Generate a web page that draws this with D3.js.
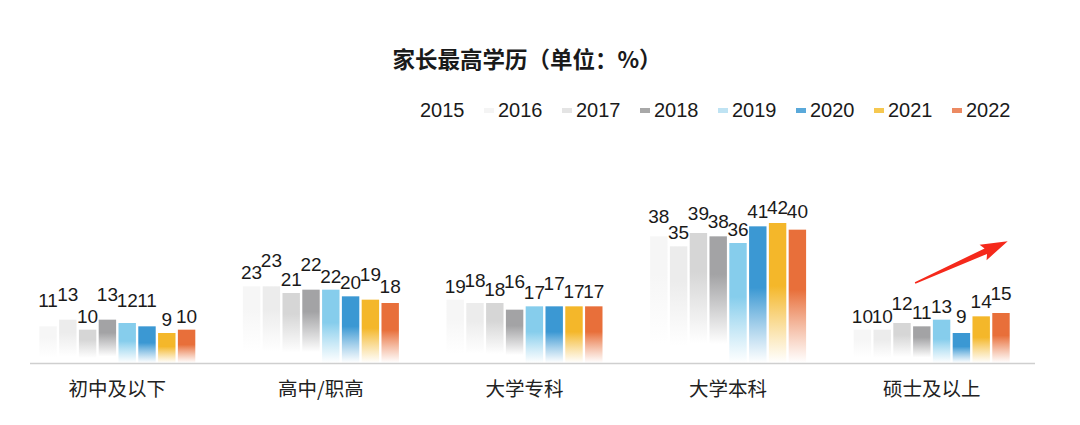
<!DOCTYPE html>
<html>
<head>
<meta charset="utf-8">
<script src="https://cdn.jsdelivr.net/npm/d3@7"></script>
<style>
  body { margin: 0; background: #fff; }
  svg { display: block; }
  .num { font-family: "Liberation Sans Narrow", "Liberation Sans", Arial, sans-serif; font-size: 19px; fill: #1a1a1a; }
  .leg { font-family: "Liberation Sans", Arial, sans-serif; font-size: 20px; fill: #1a1a1a; }
  .cat { font-family: "Noto Sans CJK SC", sans-serif; font-size: 19.5px; fill: #222; }
  .title { font-family: "Noto Sans CJK SC", sans-serif; font-size: 22.5px; font-weight: bold; fill: #1a1a1a; }
</style>
</head>
<body>
<svg id="chart" width="1080" height="425"></svg>
<script>
var categories = ['初中及以下', '高中/职高', '大学专科', '大学本科', '硕士及以上']
var years = ['2015', '2016', '2017', '2018', '2019', '2020', '2021', '2022']
var values = [
	[11, 13, 10, 13, 12, 11, 9, 10],
	[23, 23, 21, 22, 22, 20, 19, 18],
	[19, 18, 18, 16, 17, 17, 17, 17],
	[38, 35, 39, 38, 36, 41, 42, 40],
	[10, 10, 12, 11, 13, 9, 14, 15]
]
// how far each value label was nudged up in the original (0 = sits on the bar)
var labelLift = [
	[2, 2, 0, 2, 1.5, 2, 0, 0],
	[0, 2, 0, 2, 0, 0, 2, 0.5],
	[0, 1.5, 0, 2.5, 0, 1.5, 0.3, 0.2],
	[1, 0, 1, 0.3, 0, 0.3, 0.3, 0.7],
	[0, 0, 1, 0, 0, 0.5, 0.3, 1]
]
var colors = ['#f6f6f6', '#ececec', '#d6d6d6', '#a3a3a5', '#86cdec', '#3b98d3', '#f4b72a', '#e86f3a']
var swatchColors = ['#ffffff', '#f4f4f4', '#e4e4e4', '#a8a8a8', '#bfe3f3', '#5aa9da', '#f6c850', '#ec8a62']
var grayYears = 4

var svg = d3.select('#chart')

var x = d3.scaleBand().domain(categories).range([15.5, 1033.5])
var xi = d3.scaleBand().domain(years).range([23.8, 179.8]).paddingInner(0.12)
var y = d3.scaleLinear().domain([0, 42]).range([363, 223])

// gradients, solid on top and fading to white at the base
var defs = svg.append('defs')
for (var i = 0; i < years.length; i++) {
	var g = defs.append('linearGradient').attr('id', 'g' + i)
		.attr('x1', 0).attr('y1', 0).attr('x2', 0).attr('y2', 1)
	var gray = i < grayYears
	g.append('stop').attr('offset', 0).attr('stop-color', colors[i])
	g.append('stop').attr('offset', gray ? 0.3 : 0.45).attr('stop-color', colors[i])
	g.append('stop').attr('offset', gray ? 0.85 : 1).attr('stop-color', '#fff').attr('stop-opacity', gray ? 1 : 0.85)
	if (gray) g.append('stop').attr('offset', 1).attr('stop-color', '#fff')
}

svg.append('text').attr('class', 'title').attr('x', 527).attr('y', 68)
	.attr('text-anchor', 'middle').text('家长最高学历（单位：%）')

// legend
var legend = svg.append('g').attr('transform', 'translate(420,117)')
var items = legend.selectAll('g').data(years).enter().append('g')
	.attr('transform', function(d, i) { return 'translate(' + (i * 78) + ',0)' })
items.append('rect').attr('x', -14).attr('y', -9).attr('width', 10).attr('height', 5)
	.attr('fill', function(d, i) { return swatchColors[i] })
items.append('text').attr('class', 'leg').attr('x', 0).attr('y', 0).text(function(d) { return d })

// bars
var groups = svg.selectAll('.grp').data(categories).enter().append('g')
	.attr('class', 'grp')
	.attr('transform', function(d) { return 'translate(' + x(d) + ',0)' })

function rows(d, ci) {
	return values[ci].map(function(v, yi) { return {v: v, yi: yi, ci: ci} })
}

groups.selectAll('rect').data(rows).enter().append('rect')
	.attr('x', function(d) { return xi(years[d.yi]) })
	.attr('y', function(d) { return y(d.v) })
	.attr('width', xi.bandwidth())
	.attr('height', function(d) { return y(0) - y(d.v) })
	.attr('fill', function(d) { return 'url(#g' + d.yi + ')' })

groups.selectAll('text.num').data(rows).enter().append('text')
	.attr('class', 'num')
	.attr('text-anchor', 'middle')
	.attr('x', function(d) { return xi(years[d.yi]) + xi.bandwidth() / 2 })
	.attr('y', function(d) { return y(d.v) - 7 - labelLift[d.ci][d.yi] * 6 })
	.text(function(d) { return d.v })

// axis line
svg.append('line').attr('x1', 30).attr('x2', 1035).attr('y1', y(0) + 0.5).attr('y2', y(0) + 0.5)
	.attr('stroke', '#cfcfcf').attr('stroke-width', 1.5)

svg.selectAll('.cat').data(categories).enter().append('text')
	.attr('class', 'cat')
	.attr('text-anchor', 'middle')
	.attr('x', function(d) { return x(d) + x.bandwidth() / 2 })
	.attr('y', 396)
	.text(function(d) { return d })

// red trend arrow over the last group
var last = categories[categories.length - 1]
var ax0 = x(last) + xi('2018') + 2, ay0 = y(24)
var ax1 = x(last) + xi('2022') + xi.bandwidth() - 2, ay1 = y(36.5)
var ang = Math.atan2(ay1 - ay0, ax1 - ax0)
var ux = Math.cos(ang), uy = Math.sin(ang), nx = -uy, ny = ux
var headLen = 24, headW = 8.5, shaftW = 3
var bx = ax1 - ux * headLen, by = ay1 - uy * headLen
var pts = [
	[ax0 + nx * 0.8, ay0 + ny * 0.8],
	[bx + nx * shaftW, by + ny * shaftW],
	[bx - ux * 3 + nx * headW, by - uy * 3 + ny * headW],
	[ax1, ay1],
	[bx - ux * 3 - nx * headW, by - uy * 3 - ny * headW],
	[bx - nx * shaftW, by - ny * shaftW],
	[ax0 - nx * 0.8, ay0 - ny * 0.8]
]
svg.append('polygon').attr('points', pts.map(function(p) { return p.join(',') }).join(' '))
	.attr('fill', '#f5291b')
</script>
</body>
</html>
